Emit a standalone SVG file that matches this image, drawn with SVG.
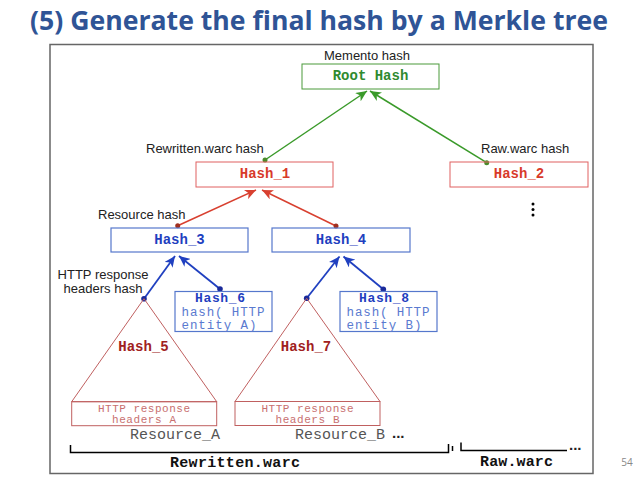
<svg xmlns="http://www.w3.org/2000/svg" width="638" height="479" viewBox="0 0 638 479">
<style>
.lbl{font-family:"Liberation Sans",Arial,sans-serif;font-size:13px;fill:#222}
.mono{font-family:"Liberation Mono","Courier New",monospace}
.b{font-weight:bold}
.green{fill:#2f8a2f}
.red{fill:#d83a2a}
.blue{fill:#1f3fbf}
.lblue{fill:#5a7ad0}
.dred{fill:#a02020}
.pink{fill:#c87070}
.gbox{fill:none;stroke:#4a9a3a;stroke-width:1}
.rbox{fill:none;stroke:#e06060;stroke-width:1}
.bbox{fill:none;stroke:#5577cc;stroke-width:1.2}
.tri{fill:none;stroke:#c06060;stroke-width:1}
.gl{stroke:#3a9a2a;stroke-width:1.5;fill:none}
.rl{stroke:#d84030;stroke-width:1.5;fill:none}
.bl{stroke:#2040c0;stroke-width:1.8;fill:none}
.brk{stroke:#000;stroke-width:1.5;fill:none}
</style>
<defs>
<marker id="ag" markerUnits="userSpaceOnUse" markerWidth="12" markerHeight="10" refX="11" refY="5" orient="auto"><path d="M0,0 L11,5 L0,10 L3,5 z" fill="#3a9a2a"/></marker>
<marker id="ar" markerUnits="userSpaceOnUse" markerWidth="12" markerHeight="10" refX="11" refY="5" orient="auto"><path d="M0,0 L11,5 L0,10 L3,5 z" fill="#d84030"/></marker>
<marker id="ab" markerUnits="userSpaceOnUse" markerWidth="12" markerHeight="10" refX="11" refY="5" orient="auto"><path d="M0,0 L11,5 L0,10 L3,5 z" fill="#2040c0"/></marker>
</defs>
<rect x="0" y="0" width="638" height="479" fill="#fff"/>
<text x="30" y="30" font-family="'Open Sans','Noto Sans',sans-serif" font-weight="bold" font-size="27" fill="#2f5496" textLength="578" lengthAdjust="spacingAndGlyphs">(5) Generate the final hash by a Merkle tree</text>
<rect x="50" y="44.5" width="543" height="429" fill="none" stroke="#666" stroke-width="1.5"/>
<text x="627" y="466" font-family="'Open Sans',sans-serif" font-size="10" fill="#888" text-anchor="middle">54</text>

<g id="connectors">
<line class="gl" x1="265" y1="160" x2="367" y2="91" marker-end="url(#ag)"/>
<line class="gl" x1="486.7" y1="162.7" x2="370" y2="91" marker-end="url(#ag)"/>
<line class="rl" x1="177.7" y1="225.7" x2="256" y2="190" marker-end="url(#ar)"/>
<line class="rl" x1="336" y1="226" x2="262" y2="190" marker-end="url(#ar)"/>
<line class="bl" x1="144" y1="298.7" x2="175" y2="256" marker-end="url(#ab)"/>
<line class="bl" x1="220" y1="289" x2="179" y2="256" marker-end="url(#ab)"/>
<line class="bl" x1="306.7" y1="298.3" x2="339.5" y2="256.5" marker-end="url(#ab)"/>
<line class="bl" x1="383.3" y1="289.3" x2="343.5" y2="256.5" marker-end="url(#ab)"/>
<circle cx="265" cy="160" r="2.5" fill="#4a8a2a"/>
<circle cx="486.7" cy="162.7" r="2.5" fill="#4a8a2a"/>
<circle cx="177.7" cy="225.7" r="2.5" fill="#a03020"/>
<circle cx="336" cy="226" r="2.5" fill="#a03020"/>
<circle cx="144" cy="298.7" r="2.8" fill="#1a2a9a"/>
<circle cx="220" cy="289" r="2.8" fill="#1a2a9a"/>
<circle cx="306.7" cy="298.3" r="2.8" fill="#1a2a9a"/>
<circle cx="383.3" cy="289.3" r="2.8" fill="#1a2a9a"/>
</g>

<g id="root">
<rect class="gbox" x="302" y="64" width="137" height="25"/>
<text class="mono b green" x="370.5" y="80" font-size="14" text-anchor="middle">Root Hash</text>
<text class="lbl" x="367" y="60" font-size="12" text-anchor="middle">Memento hash</text>
</g>
<g id="hash1">
<rect class="rbox" x="196" y="162" width="137" height="25"/>
<text class="mono b red" x="265" y="178" font-size="14" text-anchor="middle">Hash_1</text>
<text class="lbl" x="146" y="153">Rewritten.warc hash</text>
</g>
<g id="hash2">
<rect class="rbox" x="450" y="162" width="138" height="25"/>
<text class="mono b red" x="519" y="178" font-size="14" text-anchor="middle">Hash_2</text>
<text class="lbl" x="481" y="153">Raw.warc hash</text>
<circle cx="533" cy="204" r="1.5" fill="#000"/>
<circle cx="533" cy="209.5" r="1.5" fill="#000"/>
<circle cx="533" cy="215" r="1.5" fill="#000"/>
</g>
<g id="hash3">
<rect class="bbox" x="111" y="228" width="137" height="24"/>
<text class="mono b blue" x="179.5" y="244" font-size="14" text-anchor="middle">Hash_3</text>
<text class="lbl" x="98" y="219">Resource hash</text>
</g>
<g id="hash4">
<rect class="bbox" x="272" y="228" width="138" height="24"/>
<text class="mono b blue" x="341" y="244" font-size="14" text-anchor="middle">Hash_4</text>
</g>
<g id="hash6">
<rect class="bbox" x="175" y="291.5" width="97" height="40"/>
<text class="mono b blue" x="220" y="302" font-size="13" text-anchor="middle" textLength="50">Hash_6</text>
<text class="mono lblue" x="181.5" y="315.5" font-size="12.5" textLength="83">hash( HTTP</text>
<text class="mono lblue" x="181.5" y="328.5" font-size="12.5" textLength="75">entity A)</text>
</g>
<g id="hash8">
<rect class="bbox" x="340" y="291.5" width="97" height="40"/>
<text class="mono b blue" x="384" y="302" font-size="13" text-anchor="middle" textLength="50">Hash_8</text>
<text class="mono lblue" x="346.5" y="315.5" font-size="12.5" textLength="83">hash( HTTP</text>
<text class="mono lblue" x="346.5" y="328.5" font-size="12.5" textLength="75">entity B)</text>
</g>
<g id="hash5">
<text class="lbl" x="103" y="279" font-size="12.5" text-anchor="middle">HTTP response</text>
<text class="lbl" x="103" y="292.5" font-size="12.5" text-anchor="middle">headers hash</text>
<polygon class="tri" points="144,298.7 71.7,401.7 216.7,401.7"/>
<rect class="tri" x="71.7" y="401.7" width="145" height="24"/>
<text class="mono b dred" x="143.5" y="351" font-size="14" text-anchor="middle">Hash_5</text>
<text class="mono pink" x="144" y="411.5" font-size="11" text-anchor="middle" textLength="92">HTTP response</text>
<text class="mono pink" x="144" y="423" font-size="11" text-anchor="middle" textLength="64">headers A</text>
<text class="mono" x="130" y="439" font-size="15" fill="#555">Resource_A</text>
</g>
<g id="hash7">
<polygon class="tri" points="306.7,298.3 235,401.5 380,401.5"/>
<rect class="tri" x="235" y="401.5" width="145" height="24"/>
<text class="mono b dred" x="306" y="351" font-size="14" text-anchor="middle">Hash_7</text>
<text class="mono pink" x="307.5" y="411.5" font-size="11" text-anchor="middle" textLength="92">HTTP response</text>
<text class="mono pink" x="307.5" y="423" font-size="11" text-anchor="middle" textLength="64">headers B</text>
<text class="mono" x="295" y="439" font-size="15" fill="#555">Resource_B</text>
<text x="392" y="438" font-family="'Liberation Sans',sans-serif" font-size="15" font-weight="bold" fill="#222">...</text>
</g>
<g id="rewritten">
<path class="brk" d="M70.5,445 V452.5 H448.5 V444"/>
<line class="brk" x1="452.5" y1="446" x2="452.5" y2="451"/>
<text class="mono b" x="170" y="467" font-size="15" fill="#111" textLength="130">Rewritten.warc</text>
</g>
<g id="raw">
<path class="brk" d="M461,442.5 V450.5 H567"/>
<text x="569" y="450" font-family="'Liberation Sans',sans-serif" font-size="15" font-weight="bold" fill="#222">...</text>
<text class="mono b" x="480" y="466" font-size="15" fill="#111" textLength="73">Raw.warc</text>
</g>
</svg>
